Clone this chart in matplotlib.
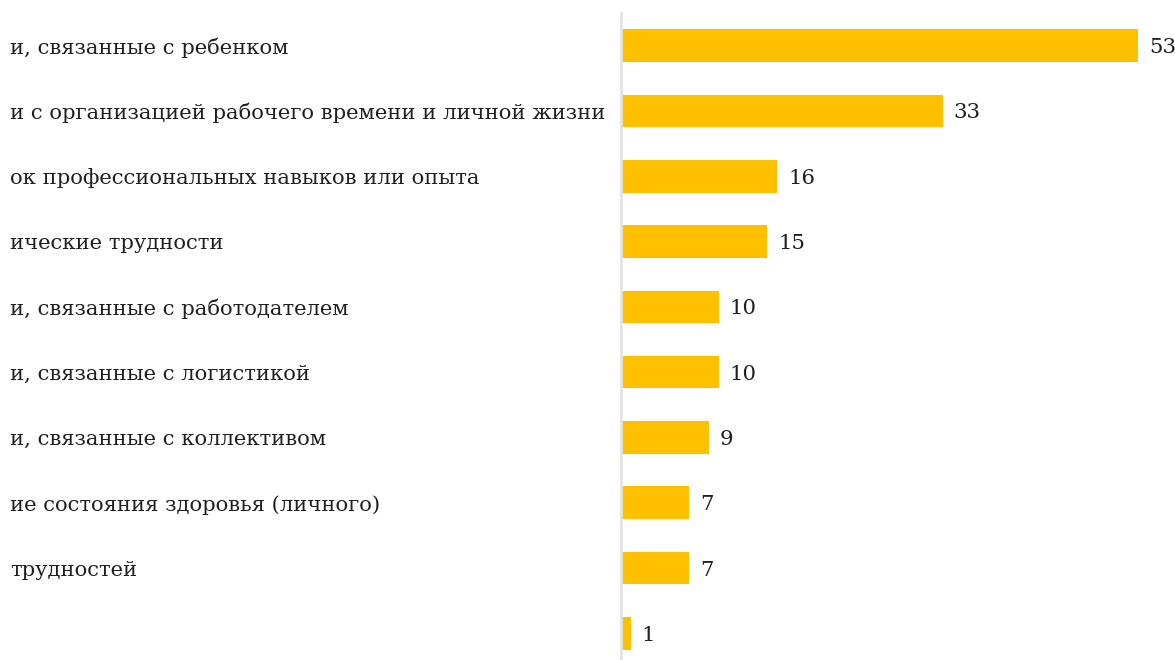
import matplotlib.pyplot as plt
import matplotlib.transforms as mtransforms

# categories (left part of the long labels is cut off by the frame)
labels = [
    "и, связанные с ребенком",
    "и с организацией рабочего времени и личной жизни",
    "ок профессиональных навыков или опыта",
    "ические трудности",
    "и, связанные с работодателем",
    "и, связанные с логистикой",
    "и, связанные с коллективом",
    "ие состояния здоровья (личного)",
    "трудностей",
    "",
]
values = [53, 33, 16, 15, 10, 10, 9, 7, 7, 1]

bar_color = "#FFC000"
text_color = "#1f1f1f"

plt.rcParams['font.family'] = ['DejaVu Serif']

fig = plt.figure(figsize=(11.75, 6.6), dpi=100)
# axes placed in pixels: value axis starts at x=621, rows are ~65 px apart
ax = fig.add_axes([621 / 1175, 1 - 666 / 660, 585 / 1175, 653 / 660])

pos = list(range(len(values)))
ax.barh(pos, values, height=0.5, color=bar_color)
ax.set_xlim(0, 60)
ax.set_ylim(len(values) - 0.5, -0.5)

for p, v in zip(pos, values):
    ax.annotate(str(v), (v, p), xytext=(8, 0), textcoords='offset points',
                ha='left', va='center_baseline', fontsize=15.3,
                color=text_color)

trans = mtransforms.blended_transform_factory(fig.transFigure, ax.transData)
for p, lab in zip(pos, labels):
    ax.text(10 / 1175, p, lab, transform=trans, ha='left',
            va='center_baseline', fontsize=15.2, color=text_color,
            clip_on=False)

for s in ['top', 'right', 'bottom']:
    ax.spines[s].set_visible(False)
ax.spines['left'].set_color('#e3e3e3')
ax.spines['left'].set_linewidth(2)
ax.set_xticks([])
ax.set_yticks([])

fig.savefig("out.png", dpi=100)
